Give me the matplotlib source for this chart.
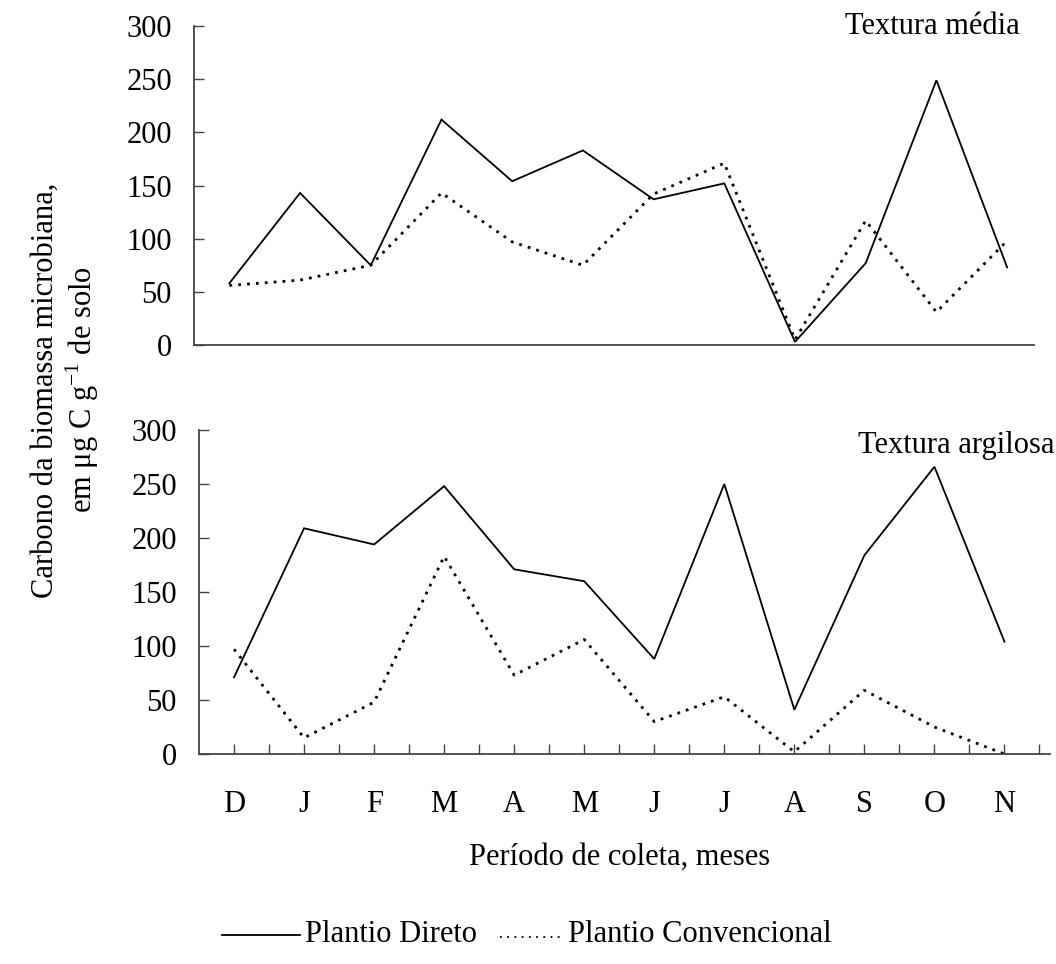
import matplotlib
matplotlib.use("Agg")
import matplotlib.pyplot as plt
from matplotlib.lines import Line2D
import numpy as np

months = ["D", "J", "F", "M", "A", "M", "J", "J", "A", "S", "O", "N"]
yticks = [0, 50, 100, 150, 200, 250, 300]

# Textura média
media_direto = [58, 143, 75, 212, 154, 183, 137, 152, 3, 77, 249, 73]
media_conv = [56, 61, 75, 143, 97, 75, 142, 171, 5, 117, 31, 98]

# Textura argilosa
argilosa_direto = [71, 209, 194, 248, 171, 160, 88, 250, 41, 184, 266, 104]
argilosa_conv = [97, 15, 48, 183, 73, 106, 30, 53, 2, 59, 25, 0]

plt.rcParams['font.family'] = ['Liberation Serif', 'DejaVu Serif']
FS = 22

W, H = 1056, 964
fig = plt.figure(figsize=(W / 100, H / 100), dpi=100)

def box(l, r, b, t):
    return [l / W, 1 - b / H, (r - l) / W, (b - t) / H]

ax1 = fig.add_axes(box(194, 1034, 345, 26))
ax2 = fig.add_axes(box(199, 1050, 754, 430))

x = np.arange(len(months))
spine_color = "#444444"

for ax, d, c, xr in [(ax1, media_direto, media_conv, 11.38),
                     (ax2, argilosa_direto, argilosa_conv, 11.65)]:
    ax.plot(x, d, color="black", lw=1.3, solid_joinstyle="miter")
    ax.plot(x, c, color="black", lw=2.0, linestyle=(0, (1, 2.2)))
    ax.set_xlim(-0.5, xr)
    ax.set_ylim(0, 300)
    ax.set_yticks(yticks)
    ax.set_yticklabels([str(v) for v in yticks], fontsize=FS)
    for s in ["top", "right"]:
        ax.spines[s].set_visible(False)
    for s in ["left", "bottom"]:
        ax.spines[s].set_color(spine_color)
        ax.spines[s].set_linewidth(1.3)
    ax.tick_params(axis="y", direction="in", length=7, width=1.0,
                   color=spine_color, pad=16)
    ax.patch.set_alpha(0)

ax1.set_xticks([])
ax2.set_xticks(x)
ax2.set_xticklabels(months, fontsize=FS)
ax2.set_xticks(np.arange(0.5, 12, 1), minor=True)
ax2.tick_params(axis="x", which="both", direction="in", length=7, width=1.0,
                color=spine_color, pad=26)

ax1.text(932 / W, 1 - 27 / H, "Textura média", transform=fig.transFigure,
         fontsize=FS, ha="center", va="center")
ax2.text(1054 / W, 1 - 445 / H, "Textura argilosa", transform=fig.transFigure,
         fontsize=FS, ha="right", va="center")

fig.text(45 / W, 1 - 390 / H, "Carbono da biomassa microbiana,",
         rotation=90, fontsize=FS, ha="center", va="center")
fig.text(82 / W, 1 - 390 / H, r"em μg C g$^{\mathregular{-1}}$ de solo",
         rotation=90, fontsize=FS, ha="center", va="center")

fig.text(620 / W, 1 - 857 / H, "Período de coleta, meses",
         fontsize=FS, ha="center", va="center")

# legend
fig.add_artist(Line2D([222 / W, 300 / W], [1 - 935 / H, 1 - 935 / H],
                      color="black", lw=1.3))
fig.text(305 / W, 1 - 935 / H, "Plantio Direto", fontsize=FS,
         ha="left", va="center")
fig.add_artist(Line2D([500 / W, 562 / W], [1 - 937 / H, 1 - 937 / H],
                      color="black", lw=1.3, linestyle=(0, (1, 3))))
fig.text(568 / W, 1 - 935 / H, "Plantio Convencional", fontsize=FS,
         ha="left", va="center")

fig.savefig("out.png", dpi=100)
